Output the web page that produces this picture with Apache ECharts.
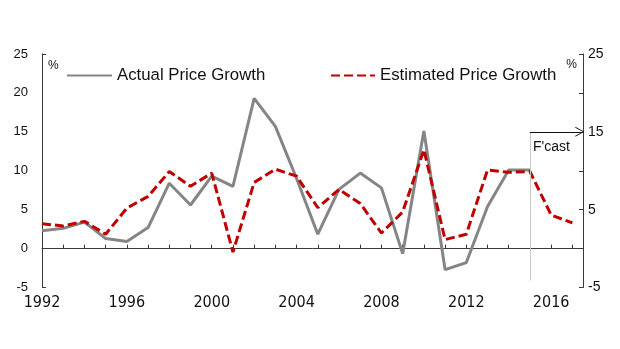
<!DOCTYPE html>
<html>
<head>
<meta charset="utf-8">
<script src="https://cdn.jsdelivr.net/npm/echarts@6/dist/echarts.min.js"></script>
<style>
html,body{margin:0;padding:0;background:#fff;}
#chart{width:620px;height:349px;}
</style>
</head>
<body>
<div id="chart"></div>
<script>
const years = [1992,1993,1994,1995,1996,1997,1998,1999,2000,2001,2002,2003,2004,2005,2006,2007,2008,2009,2010,2011,2012,2013,2014,2015,2016,2017];
const actualGrowth = [2.3,2.6,3.4,1.3,0.9,2.7,8.4,5.6,9.3,8.0,19.3,15.7,9.0,1.85,7.6,9.7,7.8,-0.65,15.1,-2.7,-1.8,5.4,10.1,10.1,null,null];
const estimatedGrowth = [3.2,2.9,3.5,1.85,5.2,6.7,9.9,8.0,9.7,-0.45,8.5,10.2,9.3,5.25,7.6,5.8,2.0,4.7,12.7,1.15,1.85,10.1,9.8,9.9,4.3,3.3];
const xTickLabels = [1992,1996,2000,2004,2008,2012,2016];
const leftTickLabels = [-5,0,5,10,15,20,25];
const rightTickLabels = [-5,5,15,25];
const forecastStart = 2015;

const font = 'Liberation Sans, Arial, sans-serif';
const axisColor = '#3a3a3a';

const chart = echarts.init(document.getElementById('chart'), null, {renderer: 'canvas'});
chart.setOption({
  animation: false,
  backgroundColor: '#fff',
  grid: {left: 42, right: 37, top: 54, bottom: 61.5, containLabel: false},
  legend: [
    {data: ['Actual Price Growth'], left: 66, top: 67, padding: 0, itemWidth: 45, itemHeight: 14,
     itemStyle: {opacity: 0},
     textStyle: {fontFamily: font, fontSize: 16.8, color: '#111'}},
    {data: ['Estimated Price Growth'], left: 330, top: 67, padding: 0, itemWidth: 44, itemHeight: 14,
     itemStyle: {opacity: 0},
     textStyle: {fontFamily: font, fontSize: 16.8, color: '#111'}}
  ],
  xAxis: [
    {type: 'value', min: 1992, max: 2017.5,
     axisLine: {show: true, onZero: true, onZeroAxisIndex: 0, lineStyle: {color: axisColor, width: 1}},
     axisTick: {show: true, inside: true, length: 4, customValues: years.slice(1), lineStyle: {color: axisColor}},
     axisLabel: {show: false}, splitLine: {show: false}},
    {type: 'value', min: 1992, max: 2017.5, position: 'bottom',
     axisLine: {show: false, onZero: false}, axisTick: {show: false}, splitLine: {show: false},
     axisLabel: {show: true, customValues: xTickLabels, margin: 7,
       fontFamily: 'DejaVu Sans Condensed, Liberation Sans Narrow, Liberation Sans, sans-serif', fontSize: 16, color: '#111',
       formatter: v => String(v)}}
  ],
  yAxis: [
    {type: 'value', min: -5, max: 25, position: 'left',
     name: '%', nameLocation: 'end', nameGap: -12,
     nameTextStyle: {fontFamily: font, fontSize: 12, color: '#111', align: 'left', verticalAlign: 'middle', padding: [0,0,0,6]},
     axisLine: {show: true, lineStyle: {color: axisColor}},
     axisTick: {show: true, inside: true, length: 4, customValues: [-5, 25], lineStyle: {color: axisColor}},
     axisLabel: {customValues: leftTickLabels, margin: 14, fontFamily: font, fontSize: 13, color: '#111'},
     splitLine: {show: false}},
    {type: 'value', min: -5, max: 25, position: 'right',
     name: '%', nameLocation: 'end', nameGap: -11,
     nameTextStyle: {fontFamily: font, fontSize: 12, color: '#111', align: 'right', verticalAlign: 'middle', padding: [0,6,0,0]},
     axisLine: {show: true, lineStyle: {color: axisColor}},
     axisTick: {show: true, inside: true, length: 4, customValues: [-5,0,5,10,15,20,25], lineStyle: {color: axisColor}},
     axisLabel: {customValues: rightTickLabels, margin: 5, fontFamily: font, fontSize: 14, color: '#111'},
     splitLine: {show: false}}
  ],
  series: [
    {name: 'Actual Price Growth', type: 'line', xAxisIndex: 0, yAxisIndex: 0,
     data: years.map((y, i) => [y, actualGrowth[i]]),
     symbol: 'none', lineStyle: {color: '#858585', width: 3}, itemStyle: {color: '#858585'},
     markLine: {
       silent: true, symbol: ['none', 'none'],
       lineStyle: {color: '#c8c8c8', width: 1, type: 'solid'}, label: {show: false},
       data: [[{coord: [forecastStart, 15]}, {coord: [forecastStart, -4.1]}]]
     }},
    {name: 'Estimated Price Growth', type: 'line', xAxisIndex: 0, yAxisIndex: 0,
     data: years.map((y, i) => [y, estimatedGrowth[i]]),
     symbol: 'none', lineStyle: {color: '#C00000', width: 3, type: [9, 4]}, itemStyle: {color: '#C00000'},
     markLine: {
       silent: true, symbol: ['none', 'path://M0,10 L5,0 L10,10 L9,10 L5,1.8 L1,10 Z'], symbolSize: [10, 9],
       lineStyle: {color: '#111', width: 1, type: 'solid'},
       label: {show: true, formatter: "F'cast", position: 'insideStartBottom', distance: [3, 8],
         fontFamily: font, fontSize: 14, color: '#111'},
       data: [[{coord: [forecastStart, 15]}, {coord: [2017.35, 15]}]]
     }}
  ]
});
</script>
</body>
</html>
